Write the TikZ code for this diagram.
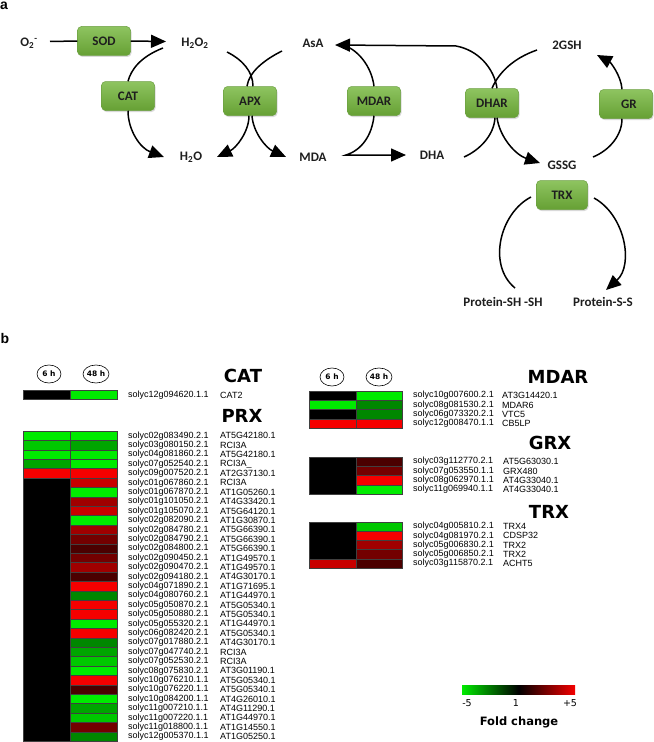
\documentclass[tikz,border=0pt]{standalone}
\usepackage{fontspec}
\newfontfamily\carl{Carlito}
\newfontfamily\libs{Liberation Sans}
\newfontfamily\dvs{DejaVu Sans}
\usetikzlibrary{arrows.meta,shadows,calc,shapes.geometric}
\definecolor{boxtop}{RGB}{142,196,96}
\definecolor{boxbot}{RGB}{102,160,52}
\definecolor{boxedge}{RGB}{108,160,66}
\definecolor{gA}{RGB}{0,235,0}
\definecolor{gB}{RGB}{0,200,0}
\definecolor{gC}{RGB}{0,165,0}
\definecolor{gD}{RGB}{0,135,0}
\definecolor{rA}{RGB}{245,0,0}
\definecolor{rB}{RGB}{200,0,0}
\definecolor{rC}{RGB}{160,0,0}
\definecolor{rD}{RGB}{115,0,0}
\definecolor{rE}{RGB}{75,0,0}
\definecolor{txt}{RGB}{30,30,30}
\begin{document}
\begin{tikzpicture}[x=1bp,y=-1bp,
  enz/.style={rectangle, rounded corners=4bp, minimum width=53bp, minimum height=29bp,
    top color=boxtop, bottom color=boxbot, draw=boxedge, line width=0.5bp,
    font=\carl\bfseries\fontsize{13bp}{15bp}\selectfont, text=txt,
    drop shadow={opacity=0.3, shadow xshift=1bp, shadow yshift=-1.5bp}},
  met/.style={font=\carl\bfseries\fontsize{13bp}{15bp}\selectfont, text=txt, inner sep=1bp},
  ln/.style={line width=1.5bp},
  arr/.style={line width=1.5bp, -{Triangle[length=15bp,width=13bp]}},
  cell/.style={draw=black!75, line width=0.5bp},
  lab/.style={font=\libs\fontsize{9bp}{9bp}\selectfont, inner sep=0, anchor=west},
  ttl/.style={font=\dvs\bfseries\fontsize{18bp}{20bp}\selectfont, inner sep=0},
  hdr/.style={ellipse, draw, line width=0.6bp, minimum width=24bp, minimum height=18bp,
    inner sep=0, font=\dvs\bfseries\fontsize{7.5bp}{8bp}\selectfont},
  plab/.style={font=\libs\bfseries\fontsize{14bp}{14bp}\selectfont, inner sep=0},
  leg/.style={font=\dvs\fontsize{9.5bp}{10bp}\selectfont, inner sep=0}
]
\useasboundingbox (0,0) rectangle (654,742);

% ---------------- panel a ----------------
\node[plab] (pa) at (4,6) {a};

\node[met] (o2) at (29,43) {O\textsubscript{2}\textsuperscript{-}};
\node[met] (h2o2) at (195,43) {H\textsubscript{2}O\textsubscript{2}};
\node[met] (asa) at (313,43) {AsA};
\node[met] (h2o) at (191,157) {H\textsubscript{2}O};
\node[met] (mda) at (313,157) {MDA};
\node[met] (dha) at (432,155) {DHA};
\node[met] (gsh) at (567,45) {2GSH};
\node[met] (gssg) at (562,165) {GSSG};
\node[met] (psh) at (503,302) {Protein-SH -SH};
\node[met] (pss) at (603,302) {Protein-S-S};

\node[enz] (sod) at (104,41) {SOD};
\node[enz] (cat) at (128,96) {CAT};
\node[enz] (apx) at (250,101) {APX};
\node[enz] (mdar) at (374,101) {MDAR};
\node[enz] (dhar) at (492,103) {DHAR};
\node[enz] (gr) at (626,104) {\hspace*{6bp}GR};
\node[enz, minimum width=51bp] (trx) at (562,195) {TRX};

\coordinate (o2e) at (50,41.5);
\coordinate (h2o2w) at (166,41.5);
\coordinate (catA) at (163,48);
\coordinate (catB) at (164,157);
\coordinate (apxA) at (227,52);
\coordinate (apxB) at (282,51);
\coordinate (apxC) at (217,157);
\coordinate (apxD) at (286,157);
\coordinate (asaE) at (335,45);
\coordinate (asaJ) at (348,47);
\coordinate (mdaE) at (346,155);
\coordinate (dhaW) at (406,155);
\coordinate (dharA) at (456,46);
\coordinate (gshW) at (537,50);
\coordinate (dhaE) at (464,157);
\coordinate (gssgW) at (540,163);
\coordinate (gssgE) at (593,157);
\coordinate (gshE) at (597,55);
\coordinate (trxL) at (531,197);
\coordinate (trxR) at (594,198);
\coordinate (pshN) at (515,288);
\coordinate (pssN) at (606,290);

\draw[ln] (o2e) -- (sod.west);
\draw[arr] (sod.east) -- (h2o2w);

\draw[ln] (catA) .. controls (140,57) and (131,70) .. (cat.north);
\draw[arr] (cat.south) .. controls (128,130) and (140,148) .. (catB);

\draw[ln] (apxA) .. controls (243,60) and (253,72) .. ($(apx.north)+(3,0)$);
\draw[ln] (apxB) .. controls (264,60) and (249,72) .. ($(apx.north)+(-3,0)$);
\draw[arr] ($(apx.south)+(-1,0)$) .. controls (249,132) and (236,148) .. (apxC);
\draw[arr] ($(apx.south)+(2,0)$) .. controls (253,132) and (266,148) .. (apxD);

\draw[ln] (mdar.north) .. controls (372,70) and (362,54) .. (asaJ);
\draw[arr] (dharA) -- (asaE);
\draw[arr] (mdar.south) .. controls (372,135) and (362,150) .. (mdaE) -- (dhaW);

\draw[ln] (dharA) .. controls (478,50) and (494,68) .. ($(dhar.north)+(5,0)$);
\draw[ln] (gshW) .. controls (514,58) and (499,72) .. ($(dhar.north)+(0,0)$);
\draw[ln] ($(dhar.south)+(3,0)$) .. controls (494,135) and (480,150) .. (dhaE);
\draw[arr] ($(dhar.south)+(5,0)$) .. controls (500,138) and (516,155) .. (gssgW);

\draw[ln] (gssgE) .. controls (610,150) and (622,135) .. ($(gr.south)+(-4,0)$);
\draw[arr] ($(gr.north)+(-4,0)$) .. controls (621,75) and (610,62) .. (gshE);

\draw[ln] (trxL) .. controls (500,213) and (487,265) .. (pshN);
\draw[arr] (trxR) .. controls (625,215) and (634,265) .. (pssN);

% ---------------- panel b ----------------
\node[plab] (pb) at (5,338) {b};

% CAT
\node[hdr] (c6) at (49,374) {6 h};
\node[hdr] (c48) at (96,374) {48 h};
\node[ttl] (tcat) at (243,376) {CAT};
\path[cell, fill=black] (23,390) rectangle (70,399);
\path[cell, fill=gA] (70,390) rectangle (117,399);
\node[lab] (catl) at (128,395) {solyc12g094620.1.1};
\node[lab] (catr) at (220,395) {CAT2};

% PRX
\node[ttl] (tprx) at (242,416) {PRX};
\foreach \c [count=\i] in {gA,gB,gA,gC,rA}{
  \path[cell, fill=\c] (23,{431+(\i-1)*9.4}) rectangle (70,{431+\i*9.4});
}
\path[cell, fill=black] (23,{431+5*9.4}) rectangle (70,{431+33*9.4});
\foreach \c [count=\i] in {gA,gC,gA,gA,rA,rB,gA,rC,rB,gA,rC,rD,rE,rD,rC,rE,rA,gD,rA,rA,gA,rA,gD,gC,gB,gA,rA,rE,gA,gC,gB,rD,gD}{
  \path[cell, fill=\c] (70,{431+(\i-1)*9.4}) rectangle (117,{431+\i*9.4});
}
\foreach \a/\b [count=\i] in {
solyc02g083490.2.1/AT5G42180.1,
solyc03g080150.2.1/RCI3A,
solyc04g081860.2.1/AT5G42180.1,
solyc07g052540.2.1/RCI3A\_,
solyc09g007520.2.1/AT2G37130.1,
solyc01g067860.2.1/RCI3A,
solyc01g067870.2.1/AT1G05260.1,
solyc01g101050.2.1/AT4G33420.1,
solyc01g105070.2.1/AT5G64120.1,
solyc02g082090.2.1/AT1G30870.1,
solyc02g084780.2.1/AT5G66390.1,
solyc02g084790.2.1/AT5G66390.1,
solyc02g084800.2.1/AT5G66390.1,
solyc02g090450.2.1/AT1G49570.1,
solyc02g090470.2.1/AT1G49570.1,
solyc02g094180.2.1/AT4G30170.1,
solyc04g071890.2.1/AT1G71695.1,
solyc04g080760.2.1/AT1G44970.1,
solyc05g050870.2.1/AT5G05340.1,
solyc05g050880.2.1/AT5G05340.1,
solyc05g055320.2.1/AT1G44970.1,
solyc06g082420.2.1/AT5G05340.1,
solyc07g017880.2.1/AT4G30170.1,
solyc07g047740.2.1/RCI3A,
solyc07g052530.2.1/RCI3A,
solyc08g075830.2.1/AT3G01190.1,
solyc10g076210.1.1/AT5G05340.1,
solyc10g076220.1.1/AT5G05340.1,
solyc10g084200.1.1/AT4G26010.1,
solyc11g007210.1.1/AT4G11290.1,
solyc11g007220.1.1/AT1G44970.1,
solyc11g018800.1.1/AT1G14550.1,
solyc12g005370.1.1/AT1G05250.1}{
  \node[lab] (prxl\i) at (128,{431+(\i-0.5)*9.4}) {\a};
  \node[lab] (prxr\i) at (220,{431+(\i-0.5)*9.4}) {\b};
}

% MDAR
\node[hdr] (m6) at (332,377) {6 h};
\node[hdr] (m48) at (379,377) {48 h};
\node[ttl] (tmdar) at (558,377) {MDAR};
\foreach \c [count=\i] in {black,gA,black,rA}{
  \path[cell, fill=\c] (309,{391+(\i-1)*9.3}) rectangle (356,{391+\i*9.3});
}
\foreach \c [count=\i] in {gA,gD,gD,rA}{
  \path[cell, fill=\c] (356,{391+(\i-1)*9.3}) rectangle (402,{391+\i*9.3});
}
\foreach \a/\b [count=\i] in {
solyc10g007600.2.1/AT3G14420.1,
solyc08g081530.2.1/MDAR6,
solyc06g073320.2.1/VTC5,
solyc12g008470.1.1/CB5LP}{
  \node[lab] (mdl\i) at (413,{391+(\i-0.5)*9.3}) {\a};
  \node[lab] (mdr\i) at (502,{391+(\i-0.5)*9.3}) {\b};
}

% GRX
\node[ttl] (tgrx) at (550,443) {GRX};
\path[cell, fill=black] (309,457) rectangle (356,{457+4*9.3});
\foreach \c [count=\i] in {rE,rD,rA,gA}{
  \path[cell, fill=\c] (356,{457+(\i-1)*9.3}) rectangle (402,{457+\i*9.3});
}
\foreach \a/\b [count=\i] in {
solyc03g112770.2.1/AT5G63030.1,
solyc07g053550.1.1/GRX480,
solyc08g062970.1.1/AT4G33040.1,
solyc11g069940.1.1/AT4G33040.1}{
  \node[lab] (grl\i) at (413,{457+(\i-0.5)*9.3}) {\a};
  \node[lab] (grr\i) at (503,{457+(\i-0.5)*9.3}) {\b};
}

% TRX
\node[ttl] (ttrx) at (549,512) {TRX};
\path[cell, fill=black] (309,522) rectangle (356,{522+4*9.2});
\path[cell, fill=rB] (309,{522+4*9.2}) rectangle (356,{522+5*9.2});
\foreach \c [count=\i] in {gB,rA,rC,rD,rE}{
  \path[cell, fill=\c] (356,{522+(\i-1)*9.2}) rectangle (402,{522+\i*9.2});
}
\foreach \a/\b [count=\i] in {
solyc04g005810.2.1/TRX4,
solyc04g081970.2.1/CDSP32,
solyc05g006830.2.1/TRX2,
solyc05g006850.2.1/TRX2,
solyc03g115870.2.1/ACHT5}{
  \node[lab] (trl\i) at (413,{522+(\i-0.5)*9.2}) {\a};
  \node[lab] (trr\i) at (503,{522+(\i-0.5)*9.2}) {\b};
}

% legend
\shade[left color=gA, right color=rA, middle color=black] (462,685) rectangle (575,694);
\node[leg] (lm5) at (467,703) {-5};
\node[leg] (l1) at (516,703) {1};
\node[leg] (lp5) at (570,703) {+5};
\node[font=\dvs\bfseries\fontsize{11.5bp}{12bp}\selectfont, inner sep=0] (lfc) at (519,722) {Fold change};
\end{tikzpicture}
\end{document}
